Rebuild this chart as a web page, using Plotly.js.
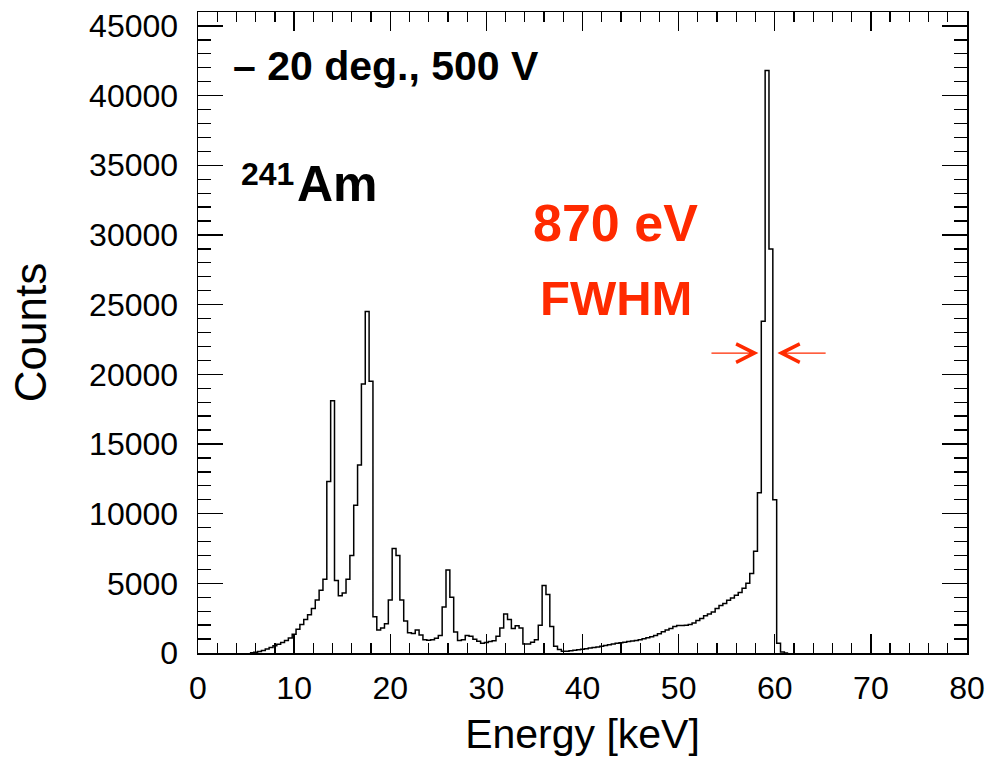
<!DOCTYPE html>
<html>
<head>
<meta charset="utf-8">
<script src="https://cdn.plot.ly/plotly-3.0.1.min.js"></script>
<style>html,body{margin:0;padding:0;background:#fff;}#chart{width:985px;height:763px;}</style>
</head>
<body>
<div id="chart"></div>
<script>
// Histogram binning (keV)
const binWidth = 0.4;
const firstBinLow = 5.4;
// Counts per bin, starting at firstBinLow
const counts = [
  20, 50, 100, 180, 280, 400, 520, 630, 760, 900,
  1080, 1350, 1700, 2050, 2400, 2750, 3200, 3800, 4500, 5300,
  12300, 18100, 5200, 4100, 4300, 5300, 7000, 10600, 13500, 19300,
  24500, 19500, 2600, 1650, 1800, 2100, 3800, 7500, 7000, 3800,
  2300, 1450, 1400, 1650, 1300, 950, 920, 950, 1050, 1250,
  3300, 5950, 4000, 1500, 900, 950, 1250, 1200, 980, 850,
  700, 760, 820, 880, 1200, 1800, 2800, 2400, 1750, 1950,
  1800, 640, 650, 780, 950, 2000, 4850, 4200, 1900, 480,
  250, 120, 130, 160, 190, 230, 270, 310, 350, 390,
  430, 480, 530, 590, 640, 700, 740, 780, 820, 860,
  900, 950, 1020, 1090, 1170, 1260, 1380, 1520, 1650, 1750,
  1900, 1980, 1980, 2000, 2050, 2150, 2330, 2480, 2680, 2800,
  2950, 3200, 3400, 3560, 3780, 3950, 4150, 4350, 4650, 5000,
  5700, 7300, 11500, 23800, 41800, 29000, 11000, 700, 80, 0
];
const xTickVals = [0, 10, 20, 30, 40, 50, 60, 70, 80];
const yTickVals = [0, 5000, 10000, 15000, 20000, 25000, 30000, 35000, 40000, 45000];
const xRange = [0, 80];
const yRange = [0, 46000];

// FWHM marker (keV, counts)
const fwhmLeft = {tip: 58.3, tail: 53.26};
const fwhmRight = {tip: 60.28, tail: 65.45};
const fwhmLevel = 21520;

const xs = [], ys = [];
for (let i = 0; i < counts.length; i++) {
  xs.push(firstBinLow + i * binWidth);
  ys.push(counts[i]);
}
xs.push(firstBinLow + counts.length * binWidth);
ys.push(counts[counts.length - 1]);

const trace = {
  x: xs, y: ys, type: 'scatter', mode: 'lines',
  line: {shape: 'hv', color: '#000', width: 1.5},
  hoverinfo: 'skip'
};

const L = 198, R = 967, T = 12, B = 653;
const W = 985, H = 763;
function px2paperX(p) { return (p - L) / (R - L); }
function px2paperY(p) { return (B - p) / (B - T); }

const sans = '"Liberation Sans", Arial, Helvetica, sans-serif';
const red = '#ff2a00';

const layout = {
  width: W, height: H,
  margin: {l: L, r: W - R, t: T, b: H - B, pad: 0},
  paper_bgcolor: '#fff', plot_bgcolor: '#fff',
  showlegend: false,
  font: {family: sans, color: '#000'},
  xaxis: {
    range: xRange, tickvals: xTickVals, ticktext: xTickVals.map(String),
    ticks: 'inside', ticklen: 19, tickwidth: 1.3, tickcolor: '#000',
    minor: {dtick: 2, ticks: 'inside', ticklen: 10, tickwidth: 1.3, tickcolor: '#000', showgrid: false},
    showline: true, linecolor: '#000', linewidth: 1.5, mirror: 'ticks',
    showgrid: false, zeroline: false,
    tickfont: {size: 32, family: sans, color: '#000'},
    ticklabelstandoff: 6,
    title: {text: 'Energy [keV]', font: {size: 41, family: sans, color: '#000'}, standoff: 14},
    automargin: false, fixedrange: true
  },
  yaxis: {
    range: yRange, tickvals: yTickVals, ticktext: yTickVals.map(String),
    ticks: 'inside', ticklen: 25, tickwidth: 1.3, tickcolor: '#000',
    minor: {dtick: 1000, ticks: 'inside', ticklen: 13, tickwidth: 1.3, tickcolor: '#000', showgrid: false},
    showline: true, linecolor: '#000', linewidth: 1.5, mirror: 'ticks',
    showgrid: false, zeroline: false,
    tickfont: {size: 32, family: sans, color: '#000'},
    ticklabelstandoff: 12,
    title: {text: 'Counts', font: {size: 44, family: sans, color: '#000'}, standoff: 28},
    automargin: false, fixedrange: true
  },
  annotations: [
    {xref: 'paper', yref: 'paper', x: px2paperX(231), y: px2paperY(66), xanchor: 'left', yanchor: 'middle',
     text: '– 20 deg., 500 V', showarrow: false, font: {family: sans, size: 41, weight: 'bold', color: '#000'}},
    {xref: 'paper', yref: 'paper', x: px2paperX(239), y: px2paperY(174), xanchor: 'left', yanchor: 'middle',
     text: '241', showarrow: false, font: {family: sans, size: 32, weight: 'bold', color: '#000'}},
    {xref: 'paper', yref: 'paper', x: px2paperX(295), y: px2paperY(184), xanchor: 'left', yanchor: 'middle',
     text: 'Am', showarrow: false, font: {family: sans, size: 50, weight: 'bold', color: '#000'}},
    {xref: 'paper', yref: 'paper', x: px2paperX(615), y: px2paperY(222.5), xanchor: 'center', yanchor: 'middle',
     text: '870 eV', showarrow: false, font: {family: sans, size: 52, weight: 'bold', color: red}},
    {xref: 'paper', yref: 'paper', x: px2paperX(616), y: px2paperY(297.5), xanchor: 'center', yanchor: 'middle',
     text: 'FWHM', showarrow: false, font: {family: sans, size: 49, weight: 'bold', color: red}},
    {xref: 'x', yref: 'y', x: fwhmLeft.tip, y: fwhmLevel, axref: 'x', ayref: 'y', ax: fwhmLeft.tail, ay: fwhmLevel,
     text: '', showarrow: true, arrowhead: 5, arrowsize: 3, arrowwidth: 1.2, arrowcolor: red, standoff: 0},
    {xref: 'x', yref: 'y', x: fwhmRight.tip, y: fwhmLevel, axref: 'x', ayref: 'y', ax: fwhmRight.tail, ay: fwhmLevel,
     text: '', showarrow: true, arrowhead: 5, arrowsize: 3, arrowwidth: 1.2, arrowcolor: red, standoff: 0}
  ]
};

Plotly.newPlot('chart', [trace], layout, {displayModeBar: false, staticPlot: true});
</script>
</body>
</html>
